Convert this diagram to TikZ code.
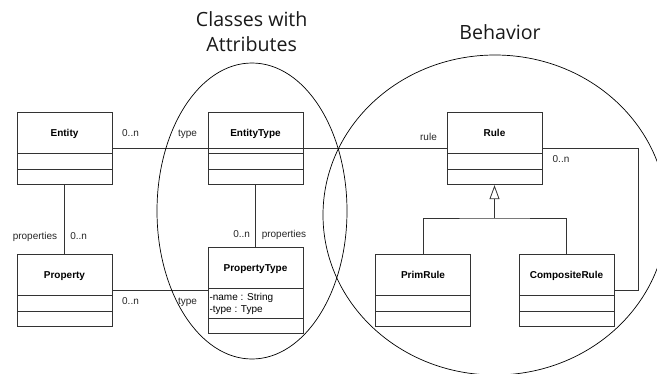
\documentclass[tikz,border=0pt]{standalone}
\usepackage{fontspec}
\setmainfont{Liberation Sans}
\newfontfamily\titlefont{Open Sans}
\usetikzlibrary{shapes.multipart,arrows.meta}

\newcommand{\cname}[1]{\rule[-16pt]{0pt}{40pt}\textbf{#1}}
\newcommand{\cpart}{\rule{0pt}{15pt}}

\begin{document}
\begin{tikzpicture}[x=1pt,y=-1pt,
            umlclass/.style={rectangle split, rectangle split parts=3, draw=black!80, line width=0.8pt,
                minimum width=95pt, inner xsep=0pt, inner ysep=0pt, anchor=north,
                rectangle split empty part height=15pt, rectangle split empty part depth=0pt,
                font=\fontsize{10}{12}\selectfont},
            lbl/.style={font=\fontsize{10}{12}\selectfont, text=black!85, anchor=base, inner sep=0pt},
            title/.style={font=\titlefont\fontsize{19.6}{25}\selectfont, text=black!90, align=center, inner sep=0pt}
            ]
            \useasboundingbox (0,0) rectangle (657,373);
            \clip (0,0) rectangle (657,373);

            \node[umlclass] (entity) at (64.5,112) {\cname{Entity}\nodepart{two}\cpart\nodepart{three}\cpart};
            \node[umlclass] (etype) at (255.5,112) {\cname{EntityType}\nodepart{two}\cpart\nodepart{three}\cpart};
            \node[umlclass] (rule) at (494.5,112) {\cname{Rule}\nodepart{two}\cpart\nodepart{three}\cpart};
            \node[umlclass] (property) at (64.5,254) {\cname{Property}\nodepart{two}\cpart\nodepart{three}\cpart};
            \node[umlclass, rectangle split part align={center,left,center}] (ptype) at (255.5,247)
                {\cname{PropertyType}\nodepart{two}\hspace{1.5pt}\parbox[t]{92pt}{\baselineskip=12.5pt\raggedright
                \rule{0pt}{11.5pt}-name : String\\-type : Type\rule[-5pt]{0pt}{5pt}}\nodepart{three}\cpart};
            \node[umlclass] (primrule) at (423,254) {\cname{PrimRule}\nodepart{two}\cpart\nodepart{three}\cpart};
            \node[umlclass] (comprule) at (566.5,254) {\cname{CompositeRule}\nodepart{two}\cpart\nodepart{three}\cpart};

            \draw[black!80, line width=0.8pt] (entity.east)--(etype.east)--(rule.west);
            \draw[black!80, line width=0.8pt] (entity.south)--(property.north);
            \draw[black!80, line width=0.8pt] (etype.south)--(ptype.north);
            \draw[black!80, line width=0.8pt] (property.east)--(ptype.west);
            \draw[black!80, line width=0.8pt] (rule.east)--++(96,0)|-(comprule.east);

            \coordinate (fork) at (494.5,218);
            \draw[black!80, line width=1.8pt, -{Triangle[open, width=10pt, length=14pt, line width=0.8pt]}] (fork)--(rule.south);
            \draw[black!80, line width=0.8pt] (primrule.north)|-(fork)-|(comprule.north);

            \node[lbl] (n1) at (130.5,136.5) {0..n};
            \node[lbl] (t1) at (187.5,136.5) {type};
            \node[lbl] (r1) at (428.5,140.5) {rule};
            \node[lbl] (n2) at (561,162.7) {0..n};
            \node[lbl] (p1) at (35,239.7) {properties};
            \node[lbl] (n3) at (78.7,239.7) {0..n};
            \node[lbl] (n4) at (241.7,237.5) {0..n};
            \node[lbl] (p2) at (284,237.5) {properties};
            \node[lbl] (n5) at (130.5,304) {0..n};
            \node[lbl] (t2) at (187.5,304) {type};

            \draw[line width=0.7pt] (252,211) ellipse [x radius=95, y radius=148];
            \draw[line width=0.7pt] (495,215) ellipse [x radius=172, y radius=160];

            \node[title, anchor=north] (attrs) at (251.7,11.5) {Classes with\\Attributes};
            \node[title, anchor=base] (behav) at (500,39.3) {Behavior};
\end{tikzpicture}
\end{document}
